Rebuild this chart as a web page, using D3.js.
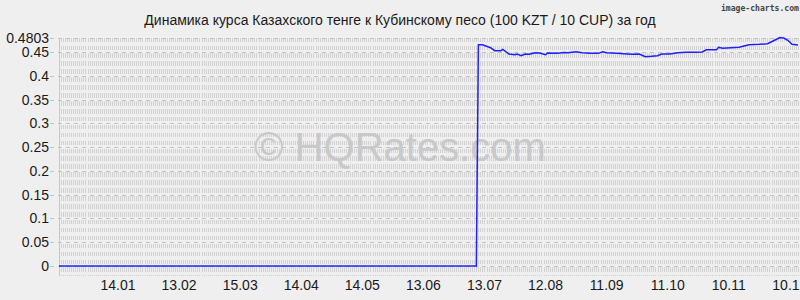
<!DOCTYPE html>
<html>
<head>
<meta charset="utf-8">
<script src="https://cdn.jsdelivr.net/npm/d3@7"></script>
<style>
  body { margin: 0; background: #efefef; }
  svg { display: block; }
  text { font-family: "Liberation Sans", Arial, sans-serif; fill: #1a1a1a; }
</style>
</head>
<body>
<script>
//dims
const width = 800, height = 300;

//data: dates (dd.mm labels on the axis) and the KZT/CUP rate
const dates = ['2022-12-16','2023-07-09','2023-07-10','2023-07-12','2023-07-16','2023-07-18','2023-07-21','2023-07-22',
  '2023-07-25','2023-07-28','2023-07-29','2023-07-31','2023-08-02','2023-08-04','2023-08-07','2023-08-09','2023-08-12',
  '2023-08-13','2023-08-18','2023-08-21','2023-08-23','2023-08-27','2023-08-30','2023-09-03','2023-09-07','2023-09-09',
  '2023-09-11','2023-09-16','2023-09-21','2023-09-24','2023-09-27','2023-09-30','2023-10-03','2023-10-06','2023-10-08',
  '2023-10-12','2023-10-16','2023-10-20','2023-10-25','2023-10-28','2023-10-30','2023-11-04','2023-11-05','2023-11-07',
  '2023-11-11','2023-11-15','2023-11-17','2023-11-20','2023-11-25','2023-11-29','2023-12-01','2023-12-04','2023-12-05',
  '2023-12-07','2023-12-09','2023-12-11','2023-12-14'];
const rates = [0,0,0.4653,0.4653,0.4590,0.4527,0.4527,0.4556,
  0.4458,0.4443,0.4458,0.4422,0.4458,0.4451,0.4485,0.4479,0.4443,
  0.4479,0.4472,0.4489,0.4485,0.4506,0.4485,0.4472,0.4472,0.4506,
  0.4485,0.4472,0.4458,0.4451,0.4458,0.4401,0.4409,0.4422,0.4458,
  0.4458,0.4485,0.4493,0.4493,0.4500,0.4548,0.4548,0.4598,0.4577,
  0.4590,0.4598,0.4619,0.4653,0.4661,0.4674,0.4716,0.4779,0.4803,
  0.4795,0.4746,0.4661,0.4647];
const xTickDates = ['2023-01-14','2023-02-13','2023-03-15','2023-04-14','2023-05-14','2023-06-13',
  '2023-07-13','2023-08-12','2023-09-11','2023-10-11','2023-11-10','2023-12-10'];
const xTickLabels = ['14.01','13.02','15.03','14.04','14.05','13.06','13.07','12.08','11.09','11.10','10.11','10.12'];
const yTicks = [0,0.05,0.1,0.15,0.2,0.25,0.3,0.35,0.4,0.45,0.4803];
const yTickLabels = ['0','0.05','0.1','0.15','0.2','0.25','0.3','0.35','0.4','0.45','0.4803'];

const title = 'Динамика курса Казахского тенге к Кубинскому песо (100 KZT / 10 CUP) за год';

const parse = d3.timeParse('%Y-%m-%d');
const series = dates.map((d,i) => ({date: parse(d), rate: rates[i]}));

//scales
const x = d3.scaleTime()
  .domain([parse('2022-12-16'), parse('2023-12-14')])
  .range([59, 798]);
const y = d3.scaleLinear()
  .domain([-0.021, 0.4803])
  .range([276, 37.6]);

const svg = d3.select('body').append('svg')
  .attr('width', width)
  .attr('height', height);

svg.append('rect')
  .attr('width', width).attr('height', height)
  .attr('fill', '#efefef');

//grid: dense dashed vertical lines, one per day
const grid = svg.append('g').attr('shape-rendering', 'crispEdges');
const days = d3.timeDay.range(x.domain()[0], d3.timeDay.offset(x.domain()[1], 1));
const period = (y(0) - y(0.05)) / 3;
grid.selectAll('.vgrid')
  .data(days.slice(1))
  .enter().append('line')
    .attr('x1', d => Math.round(x(d)) + 0.5)
    .attr('x2', d => Math.round(x(d)) + 0.5)
    .attr('y1', y.range()[1])
    .attr('y2', y.range()[0])
    .attr('stroke', '#d2d2d2')
    .attr('stroke-dasharray', `${period*0.58},${period*0.42}`);
//left axis line
grid.append('line')
  .attr('x1', 59.5).attr('x2', 59.5)
  .attr('y1', y.range()[1]).attr('y2', y.range()[0])
  .attr('stroke', '#c8c8c8');
//horizontal dashed lines at ticks
grid.selectAll('.hgrid')
  .data(yTicks)
  .enter().append('line')
    .attr('x1', 50).attr('x2', width)
    .attr('y1', d => Math.round(y(d)) + 0.5)
    .attr('y2', d => Math.round(y(d)) + 0.5)
    .attr('stroke', '#c4c4c4')
    .attr('stroke-dasharray', '4,4');

//watermark
svg.append('text')
  .attr('x', 400).attr('y', 161)
  .attr('text-anchor', 'middle')
  .style('font-size', '40px')
  .style('fill', '#c6c6c6')
  .style('opacity', 0.9)
  .text('© HQRates.com');

//rate line
svg.append('path')
  .datum(series)
  .attr('fill', 'none')
  .attr('stroke', '#2020ff')
  .attr('stroke-width', 1.5)
  .attr('d', d3.line().x(d => x(d.date)).y(d => y(d.rate)));

//y labels
svg.selectAll('.ylab')
  .data(yTicks)
  .enter().append('text')
    .attr('x', 49)
    .attr('y', d => y(d))
    .attr('dy', '0.36em')
    .attr('text-anchor', 'end')
    .style('font-size', '14px')
    .text((d,i) => yTickLabels[i]);

//x labels
svg.selectAll('.xlab')
  .data(xTickDates)
  .enter().append('text')
    .attr('x', d => x(parse(d)))
    .attr('y', 290)
    .attr('text-anchor', 'middle')
    .style('font-size', '14px')
    .text((d,i) => xTickLabels[i]);

//title
svg.append('text')
  .attr('x', 400).attr('y', 25)
  .attr('text-anchor', 'middle')
  .style('font-size', '14px')
  .text(title);

//credit
svg.append('text')
  .attr('x', 799).attr('y', 11)
  .attr('text-anchor', 'end')
  .style('font-family', '"DejaVu Sans Mono", monospace')
  .style('font-size', '9px')
  .style('font-weight', 'bold')
  .style('fill', '#444')
  .attr('textLength', 78)
  .attr('lengthAdjust', 'spacingAndGlyphs')
  .text('image-charts.com');
</script>
</body>
</html>
